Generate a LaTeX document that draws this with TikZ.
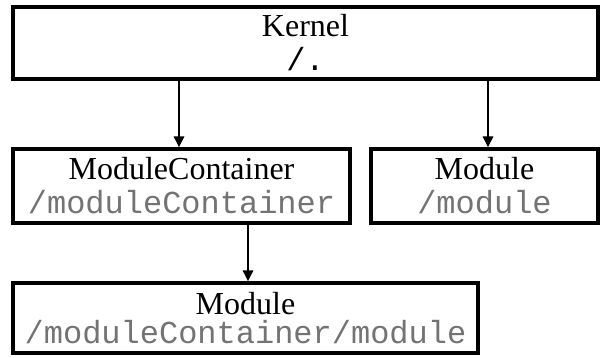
\documentclass[tikz,border=0pt]{standalone}
\usepackage{fontspec}
\setmainfont{Liberation Serif}
\setmonofont{Liberation Mono}
\usetikzlibrary{arrows.meta}

\definecolor{pathgray}{gray}{0.45}
\newcommand{\modpath}[1]{\textcolor{pathgray}{\texttt{#1}}}

\begin{document}
\begin{tikzpicture}[x=1pt, y=-1pt,
		unit/.style={draw, line width=3.1pt, rectangle, align=center, inner sep=0pt,
			font=\fontsize{32}{34}\selectfont},
		link/.style={line width=2.6pt, -{Triangle[length=11pt, width=10pt]}}]
	\useasboundingbox (0,0) rectangle (600,358);
	
	% Boxes
	\node[unit, minimum width=585pt, minimum height=72pt] (kernel) at (305.5,43) {Kernel\\\texttt{/.}};
	\node[unit, minimum width=337pt, minimum height=74pt] (container) at (181.5,186) {ModuleContainer\\\modpath{/moduleContainer}};
	\node[unit, minimum width=227pt, minimum height=74pt] (module) at (484.5,186) {Module\\\modpath{/module}};
	\node[unit, minimum width=465pt, minimum height=70pt, font=\fontsize{32}{29}\selectfont] (submodule) at (245.5,318) {Module\\\modpath{/moduleContainer/module}};
	
	% Arrow ends (slightly off centre)
	\coordinate (c1) at ([xshift=-2.5pt]container.north);
	\coordinate (c2) at ([xshift=3.5pt]module.north);
	\coordinate (c3) at ([xshift=2.5pt]submodule.north);
	
	% Arrows
	\draw[link] (c1 |- kernel.south) -- (c1);
	\draw[link] (c2 |- kernel.south) -- (c2);
	\draw[link] (c3 |- container.south) -- (c3);
	
\end{tikzpicture}
\end{document}
